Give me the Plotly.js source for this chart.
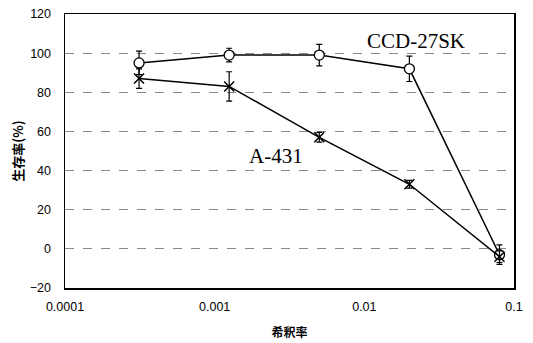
<!DOCTYPE html>
<html>
<head>
<meta charset="utf-8">
<script src="https://cdn.plot.ly/plotly-3.0.1.min.js"></script>
<style>html,body{margin:0;padding:0;background:#fff;}#chart{width:533px;height:343px;}</style>
</head>
<body>
<div id="chart"></div>
<script>
const dilution = [0.0003125, 0.00125, 0.005, 0.02, 0.08];
const ccdValues = [95, 99, 99, 92, -3];
const ccdErrors = [6, 3.5, 5.5, 6.5, 5];
const a431Values = [87, 83, 57, 33, -4];
const a431Errors = [5, 7.5, 2.5, 2, 3];
const xTickVals = [0.0001, 0.001, 0.01, 0.1];
const xTickText = ["0.0001", "0.001", "0.01", "0.1"];
const yTickVals = [-20, 0, 20, 40, 60, 80, 100, 120];
const seriesNames = ["CCD-27SK", "A-431"];

const errStyle = {type: 'data', visible: true, color: '#000', thickness: 1.2, width: 3};

const traces = [
  {
    x: dilution, y: ccdValues, name: seriesNames[0], type: 'scatter', mode: 'lines+markers',
    line: {color: '#000', width: 1.5},
    marker: {symbol: 'circle', size: 10, color: '#fff', line: {color: '#000', width: 1.3}},
    error_y: Object.assign({array: ccdErrors}, errStyle)
  },
  {
    x: dilution, y: a431Values, name: seriesNames[1], type: 'scatter', mode: 'lines+markers',
    line: {color: '#000', width: 1.5},
    marker: {symbol: 'x-thin-open', size: 10, color: '#000', line: {color: '#000', width: 1.5}},
    error_y: Object.assign({array: a431Errors}, errStyle)
  }
];

const layout = {
  width: 533, height: 343,
  margin: {l: 65, r: 19, t: 14, b: 55},
  paper_bgcolor: '#fff', plot_bgcolor: '#fff',
  showlegend: false,
  font: {family: 'Liberation Sans, Arial, sans-serif', size: 12, color: '#000'},
  xaxis: {
    type: 'log', range: [-4, -1],
    tickvals: xTickVals, ticktext: xTickText,
    showgrid: false, zeroline: false,
    showline: true, mirror: true, linecolor: '#000', linewidth: 1.5,
    ticks: '', ticklen: 0, ticklabelstandoff: 6,
    tickfont: {size: 12.5},
    title: {text: '<b>希釈率</b>', font: {family: 'Noto Sans CJK JP', size: 12}, standoff: 16}
  },
  yaxis: {
    range: [-20, 120],
    tickvals: yTickVals,
    showgrid: true, gridcolor: '#888', griddash: 'dash', gridwidth: 1,
    zeroline: false,
    showline: true, mirror: true, linecolor: '#000', linewidth: 1.5,
    ticks: '', ticklen: 0, ticklabelstandoff: 10,
    tickfont: {size: 12.5},
    title: {text: '<b>生存率(%)</b>', font: {family: 'Noto Sans CJK JP', size: 13}, standoff: 3}
  },
  annotations: [
    {x: Math.log10(0.022), y: 106, xref: 'x', yref: 'y', text: seriesNames[0], showarrow: false,
     font: {family: 'Liberation Serif, Times New Roman, serif', size: 21, color: '#000'}},
    {x: Math.log10(0.00255), y: 47.5, xref: 'x', yref: 'y', text: seriesNames[1], showarrow: false,
     font: {family: 'Liberation Serif, Times New Roman, serif', size: 21, color: '#000'}}
  ]
};

Plotly.newPlot('chart', traces, layout, {displayModeBar: false, staticPlot: true});
</script>
</body>
</html>
